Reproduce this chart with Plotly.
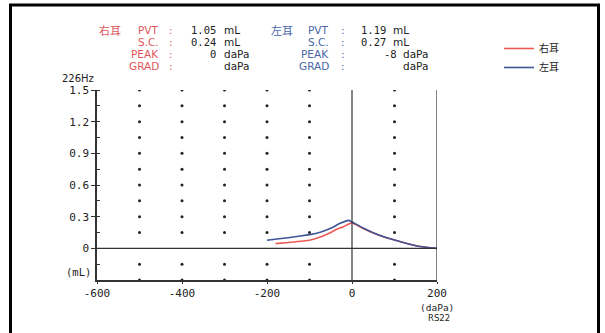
import plotly.graph_objects as go

# ---- data ----
right_p = [-180, -150, -100, -60, -36, -20, -10, 0, 25, 50, 75, 100, 125, 150, 175, 200]
right_v = [0.045, 0.055, 0.076, 0.13, 0.18, 0.205, 0.225, 0.24, 0.19, 0.145, 0.108, 0.078, 0.05, 0.025, 0.01, 0.0]
left_p = [-200, -150, -100, -85, -50, -28, -8, 0, 25, 50, 75, 100, 125, 150, 175, 200]
left_v = [0.076, 0.10, 0.13, 0.14, 0.19, 0.237, 0.265, 0.25, 0.195, 0.148, 0.11, 0.079, 0.05, 0.025, 0.01, 0.0]
series_names = ["右耳", "左耳"]
x_ticks = [-600, -400, -200, 0, 200]
y_ticks = [0, 0.3, 0.6, 0.9, 1.2, 1.5]
dot_x = [-500, -400, -300, -200, -100, 100]
dot_y = [-0.3, -0.15, 0.15, 0.3, 0.45, 0.6, 0.75, 0.9, 1.05, 1.2, 1.35, 1.5]
labels = ["PVT", "S.C.", "PEAK", "GRAD"]
right_vals = [("1.05", "mL"), ("0.24", "mL"), ("0", "daPa"), ("", "daPa")]
left_vals = [("1.19", "mL"), ("0.27", "mL"), ("-8", "daPa"), ("", "daPa")]

RED = "#ec5a55"
BLUE = "#3f5596"
RED_T = "#e0575a"
BLUE_T = "#4a66a8"
MONO = "DejaVu Sans Mono"
SANS = "DejaVu Sans"
CJK = "Noto Sans CJK SC"

W, H = 605, 333
L, R, T, B = 97, 168, 90, 53
PW, PH = W - L - R, H - T - B


def px(x):
    return (x - L) / PW


def py(y):
    return (H - B - y) / PH


fig = go.Figure()

gx, gy = [], []
for xv in dot_x:
    for yv in dot_y:
        gx.append(xv)
        gy.append(yv)
fig.add_trace(go.Scatter(x=gx, y=gy, mode="markers", marker=dict(size=3, color="#222"),
                         showlegend=False, hoverinfo="skip"))

fig.add_trace(go.Scatter(x=right_p, y=right_v, mode="lines", name=series_names[0],
                         line=dict(color=RED, width=1.6, shape="spline", smoothing=0.5)))
fig.add_trace(go.Scatter(x=left_p, y=left_v, mode="lines", name=series_names[1],
                         line=dict(color=BLUE, width=1.6, shape="spline", smoothing=0.5)))

shapes = [
    dict(type="line", xref="x", yref="y", x0=-600, x1=200, y0=0, y1=0, line=dict(color="#333", width=1.2)),
    dict(type="line", xref="x", yref="y", x0=0, x1=0, y0=-0.3, y1=1.5, line=dict(color="#333", width=1.2)),
    dict(type="line", xref="x", yref="y", x0=200, x1=200, y0=-0.3, y1=1.5, line=dict(color="#333", width=1.2)),
    dict(type="rect", xref="paper", yref="paper", x0=px(10.5), x1=px(598.5), y0=py(5), y1=py(345),
         line=dict(color="black", width=3)),
]

ann = []
def text(x, y, s, color="#222", size=11, family=MONO, xanchor="left"):
    ann.append(dict(x=px(x), y=py(y), xref="paper", yref="paper", text=s, showarrow=False,
                    xanchor=xanchor, yanchor="middle", font=dict(color=color, size=size, family=family)))

rows_y = [30, 42, 54, 66]
text(97, 30, "右耳", RED_T, 11, CJK)
for i, lab in enumerate(labels):
    text(161, rows_y[i], lab, RED_T, 10.5, SANS, "right")
    text(167, rows_y[i], ":", RED_T, 10.5, SANS)
    num, unit = right_vals[i]
    if num:
        text(218, rows_y[i], num, "#222", 10.5, MONO, "right")
    text(222, rows_y[i], unit, "#222", 10.5, SANS)
text(269, 30, "左耳", BLUE_T, 11, CJK)
for i, lab in enumerate(labels):
    text(331, rows_y[i], lab, BLUE_T, 10.5, SANS, "right")
    text(339, rows_y[i], ":", BLUE_T, 10.5, SANS)
    num, unit = left_vals[i]
    if num:
        text(388 if unit == "mL" else 399, rows_y[i], num, "#222", 10.5, MONO, "right")
    text(391 if unit == "mL" else 401, rows_y[i], unit, "#222", 10.5, SANS)

text(60, 78, "226Hz", "#222", 10, SANS)
text(64, 272, "(mL)", "#222", 10.5, MONO)
text(437, 307, "(daPa)", "#222", 9.5, MONO, "center")
text(439, 318, "RS22", "#222", 8.5, SANS, "center")

fig.update_layout(
    width=W, height=H,
    margin=dict(l=L, r=R, t=T, b=B, pad=0),
    paper_bgcolor="white", plot_bgcolor="white",
    shapes=shapes, annotations=ann,
    showlegend=True,
    legend=dict(x=px(499), y=py(34), xanchor="left", yanchor="top",
                font=dict(family=CJK, size=10, color="#222"), bgcolor="rgba(0,0,0,0)",
                tracegroupgap=0, itemwidth=30),
    xaxis=dict(range=[-600, 200], tickvals=x_ticks, ticktext=[str(v) for v in x_ticks],
               showgrid=False, zeroline=False, showline=True, linecolor="#333", linewidth=1.5,
               ticks="outside", ticklen=2, tickcolor="#333",
               tickfont=dict(family=MONO, size=11, color="#222"), fixedrange=True),
    yaxis=dict(range=[-0.3, 1.5], tickvals=y_ticks, ticktext=["0", "0.3", "0.6", "0.9", "1.2", "1.5"],
               showgrid=False, zeroline=False, showline=True, linecolor="#333", linewidth=1.5,
               ticks="outside", ticklen=4, tickcolor="#333",
               minor=dict(dtick=0.15, tick0=0, ticks="inside", ticklen=3, tickcolor="#333"),
               tickfont=dict(family=MONO, size=11, color="#222"), fixedrange=True),
)

fig.write_html("out.html", config={"displayModeBar": False},
               post_script="document.body.style.margin='0';document.body.style.overflow='hidden';")
